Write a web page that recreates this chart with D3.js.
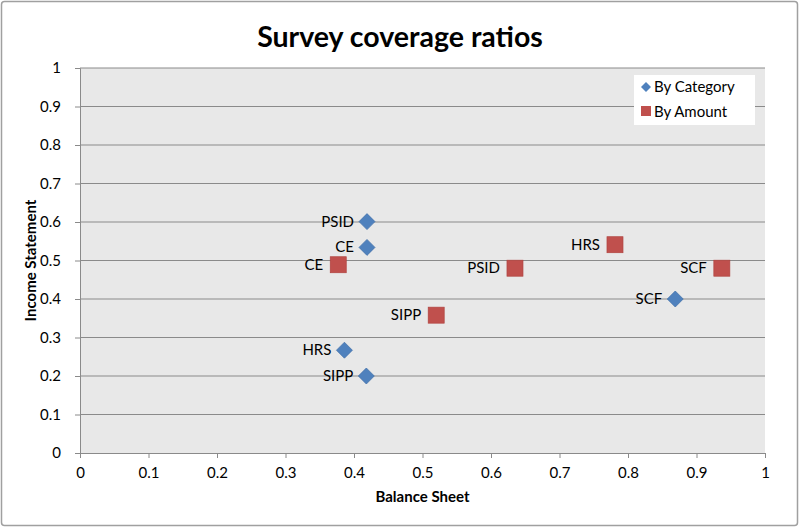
<!DOCTYPE html>
<html><head><meta charset="utf-8">
<script src="https://cdn.jsdelivr.net/npm/d3@7"></script>
<style>body{margin:0;background:#fff;font-family:Lato,"Open Sans",sans-serif}</style>
</head><body><svg id="c" width="800" height="528"></svg>
<script>
const names = ["PSID","CE","HRS","SIPP","SCF"];
const catX = [0.419,0.419,0.386,0.418,0.869];
const catY = [0.601,0.534,0.267,0.200,0.400];
const amtX = [0.635,0.377,0.781,0.520,0.937];
const amtY = [0.480,0.489,0.541,0.358,0.480];
const ticks = [0,0.1,0.2,0.3,0.4,0.5,0.6,0.7,0.8,0.9,1];

const svg = d3.select("#c");
const font = "Lato, 'Open Sans', sans-serif";
svg.append("rect").attr("x",1.5).attr("y",1.5).attr("width",796).attr("height",524)
  .attr("fill","#fff").attr("stroke","#a0a0a0").attr("stroke-width",1.5).attr("rx",3);

const L=80,R=765,T=68,B=453;
const x = d3.scaleLinear().domain([0,1]).range([L,R]);
const y = d3.scaleLinear().domain([0,1]).range([B,T]);

svg.append("rect").attr("x",L).attr("y",T).attr("width",R-L).attr("height",B-T).attr("fill","#e8e8e8");

svg.append("g").selectAll("line").data(ticks.slice(1)).join("line")
  .attr("x1",L).attr("x2",R).attr("y1",d=>y(d)).attr("y2",d=>y(d))
  .attr("stroke","#8a8a8a").attr("stroke-width",1);

const fmt = d=> d===0?"0":d===1?"1":d3.format(".1f")(d);
const xa = svg.append("g").attr("transform",`translate(0,${B})`)
  .call(d3.axisBottom(x).tickValues(ticks).tickFormat(fmt).tickSize(5).tickPadding(9));
const ya = svg.append("g").attr("transform",`translate(${L},0)`)
  .call(d3.axisLeft(y).tickValues(ticks).tickFormat(fmt).tickSize(5).tickPadding(8));
[xa,ya].forEach(a=>{
  a.select(".domain").attr("stroke","#8a8a8a");
  a.selectAll(".tick line").attr("stroke","#8a8a8a");
  a.selectAll("text").attr("font-family",font).attr("font-size",15).attr("fill","#000");
});
ya.selectAll(".tick text").attr("dx",-6);

svg.append("text").attr("x",400).attr("y",47).attr("text-anchor","middle")
  .attr("font-family",font).attr("font-weight","bold").attr("font-size",28.5).text("Survey coverage ratios");
svg.append("text").attr("x",(L+R)/2).attr("y",502).attr("text-anchor","middle")
  .attr("font-family",font).attr("font-weight","bold").attr("font-size",15).text("Balance Sheet");
svg.append("text").attr("transform",`translate(36,${(T+B)/2}) rotate(-90)`).attr("text-anchor","middle")
  .attr("font-family",font).attr("font-weight","bold").attr("font-size",15).text("Income Statement");

const blue="#4f81bd", red="#c0504d";
const catData = names.map((n,i)=>({n,x:catX[i],y:catY[i]}));
const amtData = names.map((n,i)=>({n,x:amtX[i],y:amtY[i]}));

const dg = svg.append("g");
dg.selectAll("path").data(catData).join("path")
  .attr("d","M0,-8L8,0L0,8L-8,0Z")
  .attr("transform",d=>`translate(${x(d.x)},${y(d.y)})`)
  .attr("fill",blue).attr("stroke","#3f6fa8").attr("stroke-width",0.7);
dg.selectAll("text").data(catData).join("text")
  .attr("x",d=>x(d.x)-13).attr("y",d=>y(d.y)+5).attr("text-anchor","end")
  .attr("font-family",font).attr("font-size",15).text(d=>d.n);

const sg = svg.append("g");
sg.selectAll("rect").data(amtData).join("rect")
  .attr("x",d=>x(d.x)-8).attr("y",d=>y(d.y)-8).attr("width",16).attr("height",16)
  .attr("fill",red).attr("stroke","#b04440").attr("stroke-width",0.7);
sg.selectAll("text").data(amtData).join("text")
  .attr("x",d=>x(d.x)-15).attr("y",d=>y(d.y)+5).attr("text-anchor","end")
  .attr("font-family",font).attr("font-size",15).text(d=>d.n);

const lg = svg.append("g").attr("transform","translate(634,75)");
lg.append("rect").attr("width",121).attr("height",50).attr("fill","#fff");
lg.append("path").attr("d","M0,-5L5,0L0,5L-5,0Z").attr("transform","translate(12,12)").attr("fill",blue);
lg.append("text").attr("x",20).attr("y",17).attr("font-family",font).attr("font-size",15).text("By Category");
lg.append("rect").attr("x",7).attr("y",31).attr("width",10).attr("height",10).attr("fill",red);
lg.append("text").attr("x",20).attr("y",42).attr("font-family",font).attr("font-size",15).text("By Amount");
</script></body></html>
